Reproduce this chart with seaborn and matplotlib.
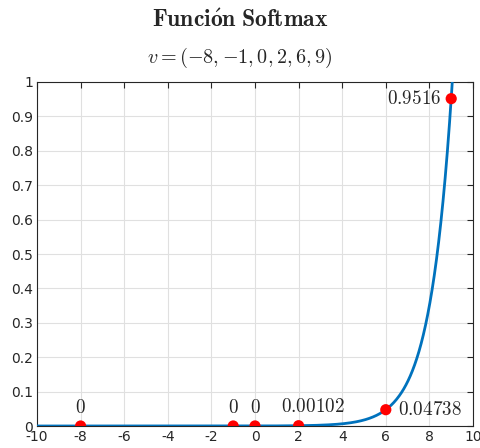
import numpy as np
import pandas as pd
import matplotlib
matplotlib.use("Agg")
import matplotlib.pyplot as plt
import seaborn as sns

# Data
v = [-8, -1, 0, 2, 6, 9]
labels = ["0", "0", "0", "0.00102", "0.04738", "0.9516"]
xticks = list(range(-10, 11, 2))
yticks = [0, 0.1, 0.2, 0.3, 0.4, 0.5, 0.6, 0.7, 0.8, 0.9, 1]
ytick_labels = ["0", "0.1", "0.2", "0.3", "0.4", "0.5", "0.6", "0.7", "0.8", "0.9", "1"]

vals = np.array(v, dtype=float)
S = np.exp(vals).sum()
soft = np.exp(vals) / S
xs = np.linspace(-10, 10, 800)
curve = pd.DataFrame({"x": xs, "y": np.exp(xs) / S})
pts = pd.DataFrame({"x": vals, "y": soft})

sns.set_theme(style="white")
plt.rcParams["mathtext.fontset"] = "cm"
plt.rcParams["font.family"] = ["DejaVu Sans"]

fig = plt.figure(figsize=(4.8, 4.48), dpi=100)
ax = fig.add_axes([37/480, 1-426/448, (473-37)/480, (426-82)/448])

sns.lineplot(data=curve, x="x", y="y", ax=ax, color="#0072BD", linewidth=2, zorder=3)
sns.scatterplot(data=pts, x="x", y="y", ax=ax, color="#FF0000", s=65,
                edgecolor="none", zorder=4)

tfs = 13.8
n = len(vals)
for i, (xv, yv, lab) in enumerate(zip(vals, soft, labels)):
    s = r"$" + lab + r"$"
    if i == n - 1:
        ax.text(xv - 0.45, yv, s, ha="right", va="center", fontsize=tfs)
    elif i == n - 2:
        ax.text(xv + 0.55, yv, s, ha="left", va="center", fontsize=tfs)
    elif i == n - 3:
        ax.text(xv + 0.65, yv + 0.055, s, ha="center", va="center", fontsize=tfs)
    else:
        ax.text(xv, yv + 0.055, s, ha="center", va="center", fontsize=tfs)

ax.set_xlim(-10, 10)
ax.set_ylim(0, 1)
ax.set_xticks(xticks)
ax.set_xticklabels([str(t) for t in xticks])
ax.set_yticks(yticks)
ax.set_yticklabels(ytick_labels)
ax.set_xlabel("")
ax.set_ylabel("")
ax.grid(True, color="#e0e0e0", linewidth=0.8)
ax.set_axisbelow(True)
for sp in ax.spines.values():
    sp.set_color("#262626")
    sp.set_linewidth(0.8)
    sp.set_visible(True)
ax.tick_params(direction="in", length=4, width=0.8, colors="#262626",
               labelsize=10, top=True, right=True, pad=3)

fig.text(0.5, 1-20/448, r"$\mathbf{Funci\acute{o}n\ Softmax}$", ha="center", va="center",
         fontsize=17)
fig.text(0.5, 1-58/448, r"$v = ({-}8, {-}1, 0, 2, 6, 9)$", ha="center", va="center",
         fontsize=14.5)

fig.savefig("out.png", dpi=100)
